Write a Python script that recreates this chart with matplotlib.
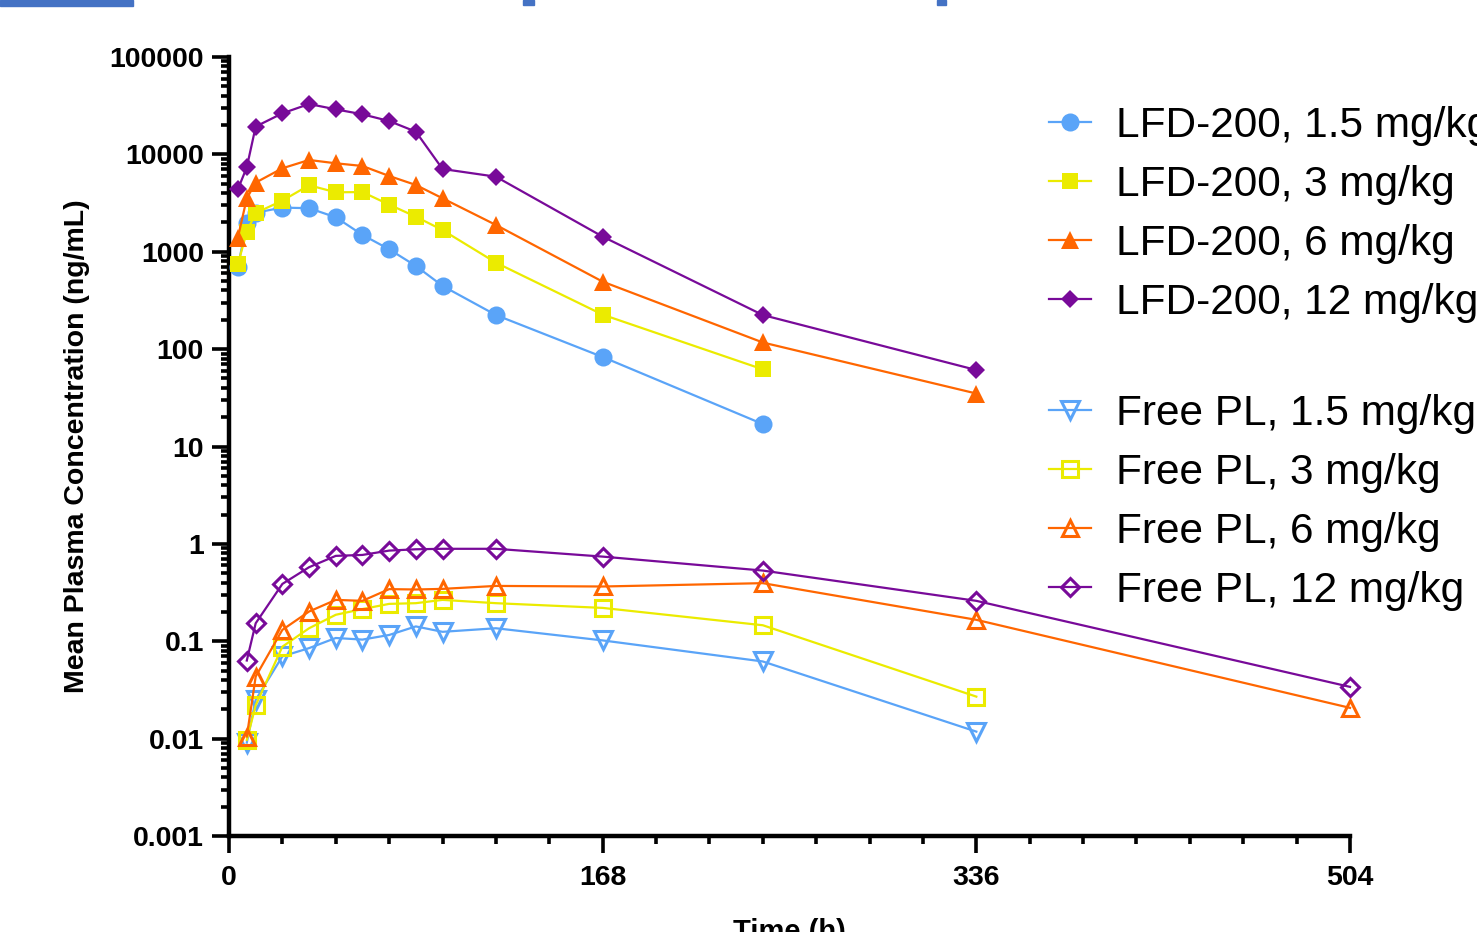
import matplotlib
matplotlib.use('Agg')
import matplotlib.pyplot as plt
from matplotlib.ticker import LogLocator, MultipleLocator, NullFormatter, FixedLocator
from matplotlib.patches import Rectangle

plt.rcParams['font.family'] = ['Liberation Sans', 'DejaVu Sans']

# time points (h)
t_lfd = [4, 8, 12, 24, 36, 48, 60, 72, 84, 96, 120, 168, 240, 336]
t_free = [8, 12, 24, 36, 48, 60, 72, 84, 96, 120, 168, 240, 336, 504]

# LFD-200 mean plasma concentrations (ng/mL)
lfd_1_5 = [703, 1960, 2520, 2840, 2800, 2260, 1490, 1060, 715, 446, 224, 83, 17]
lfd_3 = [744, 1610, 2500, 3350, 4820, 4080, 4100, 3050, 2290, 1670, 773, 226, 62]
lfd_6 = [1400, 3540, 5130, 7200, 8760, 8100, 7600, 6000, 4850, 3540, 1885, 493, 117, 35]
lfd_12 = [4390, 7370, 19300, 26400, 32900, 29000, 25800, 22000, 17100, 7080, 5900, 1430, 224, 61]

# Free PL mean plasma concentrations (ng/mL)
free_1_5 = [0.0091, 0.025, 0.070, 0.085, 0.108, 0.104, 0.116, 0.142, 0.125, 0.136, 0.102, 0.062, 0.0118]
free_3 = [0.0097, 0.022, 0.088, 0.136, 0.187, 0.214, 0.242, 0.246, 0.266, 0.246, 0.22, 0.146, 0.027]
free_6 = [0.0105, 0.0434, 0.131, 0.202, 0.266, 0.26, 0.343, 0.34, 0.345, 0.37, 0.365, 0.395, 0.166, 0.0207]
free_12 = [0.0634, 0.153, 0.388, 0.576, 0.753, 0.77, 0.853, 0.88, 0.89, 0.89, 0.74, 0.532, 0.26, 0.034]

doses = ['1.5', '3', '6', '12']
colors = ['#5AA4F8', '#EBEB00', '#FF6600', '#780A99']
lfd_markers = ['o', 's', '^', 'D']
free_markers = ['v', 's', '^', 'D']
lfd_sizes = [13, 12, 13, 9]
free_sizes = [13, 12, 12, 9]

fig = plt.figure(figsize=(14.77, 9.32), dpi=100)
ax = fig.add_axes([229 / 1477, 1 - 836 / 932, (1350 - 229) / 1477, (836 - 57) / 932])

lfd_data = [lfd_1_5, lfd_3, lfd_6, lfd_12]
free_data = [free_1_5, free_3, free_6, free_12]

lfd_handles = []
for i in range(4):
    y = lfd_data[i]
    h, = ax.plot(t_lfd[:len(y)], y, color=colors[i], marker=lfd_markers[i],
                 markersize=lfd_sizes[i], linewidth=1.6, markeredgewidth=0,
                 label='LFD-200, %s mg/kg' % doses[i], clip_on=False, zorder=3)
    lfd_handles.append(h)

free_handles = []
for i in range(4):
    y = free_data[i]
    h, = ax.plot(t_free[:len(y)], y, color=colors[i], marker=free_markers[i],
                 markersize=free_sizes[i], linewidth=1.6, markeredgewidth=2.2,
                 markerfacecolor='none', markeredgecolor=colors[i],
                 label='Free PL, %s mg/kg' % doses[i], clip_on=False, zorder=3)
    free_handles.append(h)

ax.set_yscale('log')
ax.set_ylim(0.001, 100000)
ax.set_xlim(0, 504)

ax.xaxis.set_major_locator(FixedLocator([0, 168, 336, 504]))
ax.xaxis.set_minor_locator(MultipleLocator(24))
ax.yaxis.set_minor_locator(LogLocator(base=10, subs=range(2, 10), numticks=20))
ax.yaxis.set_minor_formatter(NullFormatter())
ax.set_yticks([0.001, 0.01, 0.1, 1, 10, 100, 1000, 10000, 100000])
ax.set_yticklabels(['0.001', '0.01', '0.1', '1', '10', '100', '1000', '10000', '100000'])

for side in ['top', 'right']:
    ax.spines[side].set_visible(False)
for side in ['left', 'bottom']:
    ax.spines[side].set_linewidth(3.2)

ax.tick_params(axis='both', which='major', direction='out', width=2.6, length=12,
               labelsize=20.5, pad=6)
ax.tick_params(axis='x', which='major', pad=9)
ax.tick_params(axis='both', which='minor', direction='out', width=2.6, length=6)
for lbl in ax.get_xticklabels() + ax.get_yticklabels():
    lbl.set_fontweight('bold')

ax.set_ylabel('Mean Plasma Concentration (ng/mL)', fontsize=20.5, fontweight='bold', labelpad=14)
ax.set_xlabel('Time (h)', fontsize=21, fontweight='bold', labelpad=19)

leg_kw = dict(loc='upper left', frameon=False, fontsize=30.5, handlelength=1.0,
              handletextpad=0.58, labelspacing=0.45, borderpad=0, borderaxespad=0)
leg1 = fig.legend(handles=lfd_handles, bbox_to_anchor=(1049 / 1477, 1 - 106 / 932), **leg_kw)
leg2 = fig.legend(handles=free_handles, bbox_to_anchor=(1049 / 1477, 1 - 394 / 932), **leg_kw)

# cropped title remnants along the top edge
fig.patches.append(Rectangle((0, 1 - 6 / 932), 133 / 1477, 6 / 932, transform=fig.transFigure,
                             color='#4472C4', zorder=5))
fig.patches.append(Rectangle((523 / 1477, 1 - 5 / 932), 11 / 1477, 5 / 932, transform=fig.transFigure,
                             color='#4472C4', zorder=5))
fig.patches.append(Rectangle((937 / 1477, 1 - 5 / 932), 9 / 1477, 5 / 932, transform=fig.transFigure,
                             color='#4472C4', zorder=5))

fig.savefig('out.png', dpi=100)
